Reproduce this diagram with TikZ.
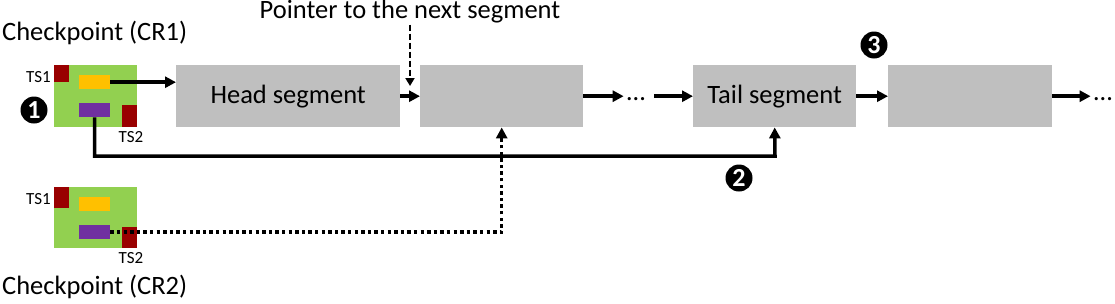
\documentclass[tikz,border=0pt]{standalone}
\usepackage{fontspec}
\setmainfont{Carlito}
\usetikzlibrary{arrows.meta}
\definecolor{segGray}{RGB}{191,191,191}
\definecolor{cpGreen}{RGB}{146,208,80}
\definecolor{tsRed}{RGB}{153,0,0}
\definecolor{ptrYellow}{RGB}{255,192,0}
\definecolor{ptrPurple}{RGB}{112,48,160}
\tikzset{
  seg/.style={fill=segGray, inner sep=0pt, anchor=north west, font=\fontsize{26.5}{30}\selectfont},
  cpbox/.style={fill=cpGreen, inner sep=0pt, anchor=north west, minimum width=83pt, minimum height=62pt},
  tsbox/.style={fill=tsRed, inner sep=0pt, anchor=north west, minimum width=15pt},
  ybox/.style={fill=ptrYellow, inner sep=0pt, anchor=north west, minimum width=31pt, minimum height=14pt},
  pbox/.style={fill=ptrPurple, inner sep=0pt, anchor=north west, minimum width=31pt, minimum height=14pt},
  tslabel/.style={inner sep=0pt, font=\fontsize{17}{19}\selectfont},
  biglabel/.style={inner sep=1pt, font=\fontsize{26.5}{30}\selectfont},
  num/.style={circle, fill=black, text=white, inner sep=0pt, minimum size=27pt, font=\fontsize{26}{26}\selectfont\bfseries},
  arr/.style={line width=3.5pt, -{Triangle[length=11pt, width=11pt]}},
  dotarr/.style={line width=3.5pt, dash pattern=on 3.3pt off 3.3pt, -{Triangle[length=11pt, width=11pt]}},
  dasharr/.style={line width=1.8pt, dash pattern=on 6pt off 3pt, -{Triangle[length=8pt, width=9pt]}},
  ell/.style={inner sep=0pt, anchor=base, font=\fontsize{26.5}{30}\selectfont}
}
\begin{document}
\begin{tikzpicture}[x=1pt, y=-1pt]
\useasboundingbox (0,0) rectangle (1115,303);
% checkpoint CR1
\node[cpbox] (cp1) at (54,65) {};
\node[tsbox, minimum height=17pt] (ts1a) at (54,65) {};
\node[ybox] (yel1) at (79,75) {};
\node[pbox] (pur1) at (79,103) {};
\node[tsbox, minimum height=22pt] (ts2a) at (122,105) {};
\node[tslabel, anchor=east] (ts1al) at (51,77) {TS1};
\node[tslabel] (ts2al) at (131,137) {TS2};
\node[biglabel, anchor=west] (cr1) at (1,33) {Checkpoint (CR1)};
\node[num] (n1) at (34,110) {1};
% checkpoint CR2
\node[cpbox, minimum height=61pt] (cp2) at (54,187) {};
\node[tsbox, minimum height=21pt] (ts1b) at (54,187) {};
\node[ybox] (yel2) at (79,197) {};
\node[pbox] (pur2) at (79,225) {};
\node[tsbox, minimum height=21pt] (ts2b) at (122,227) {};
\node[tslabel, anchor=east] (ts1bl) at (51,199) {TS1};
\node[tslabel] (ts2bl) at (131,258) {TS2};
\node[biglabel, anchor=west] (cr2) at (1,287) {Checkpoint (CR2)};
% segments
\node[seg, minimum width=224pt, minimum height=62pt] (head) at (176,65) {Head segment};
\node[seg, minimum width=163pt, minimum height=62pt] (seg2) at (420,65) {};
\node[seg, minimum width=163pt, minimum height=62pt] (tail) at (693,65) {Tail segment};
\node[seg, minimum width=164pt, minimum height=62pt] (last) at (888,65) {};
\node[ell] (dots1) at (636,100) {…};
\node[ell] (dots2) at (1103,100) {…};
\node[biglabel] (ptr) at (410,12) {Pointer to the next segment};
\node[num] (n2) at (739,178) {2};
\node[num] (n3) at (874,45) {3};
\coordinate (bend1) at (775,156);
\coordinate (ptrend) at (410,86);
% connectors
\draw[arr] (yel1.east) -- (yel1.east -| head.west);
\draw[arr] (head.east) -- (seg2.west);
\draw[arr] (seg2.east) -- ([xshift=-3pt]seg2.east -| dots1.west);
\draw[arr] ([xshift=9pt]tail.west -| dots1.east) -- (tail.west);
\draw[arr] (tail.east) -- (last.west);
\draw[arr] (last.east) -- ([xshift=-3pt]last.east -| dots2.west);
\draw[arr] (pur1.south) |- (bend1) -- (tail.south);
\draw[dotarr] (pur2.east) -| (seg2.south);
\draw[dasharr] (ptr.south) -- (ptrend);
\end{tikzpicture}
\end{document}
